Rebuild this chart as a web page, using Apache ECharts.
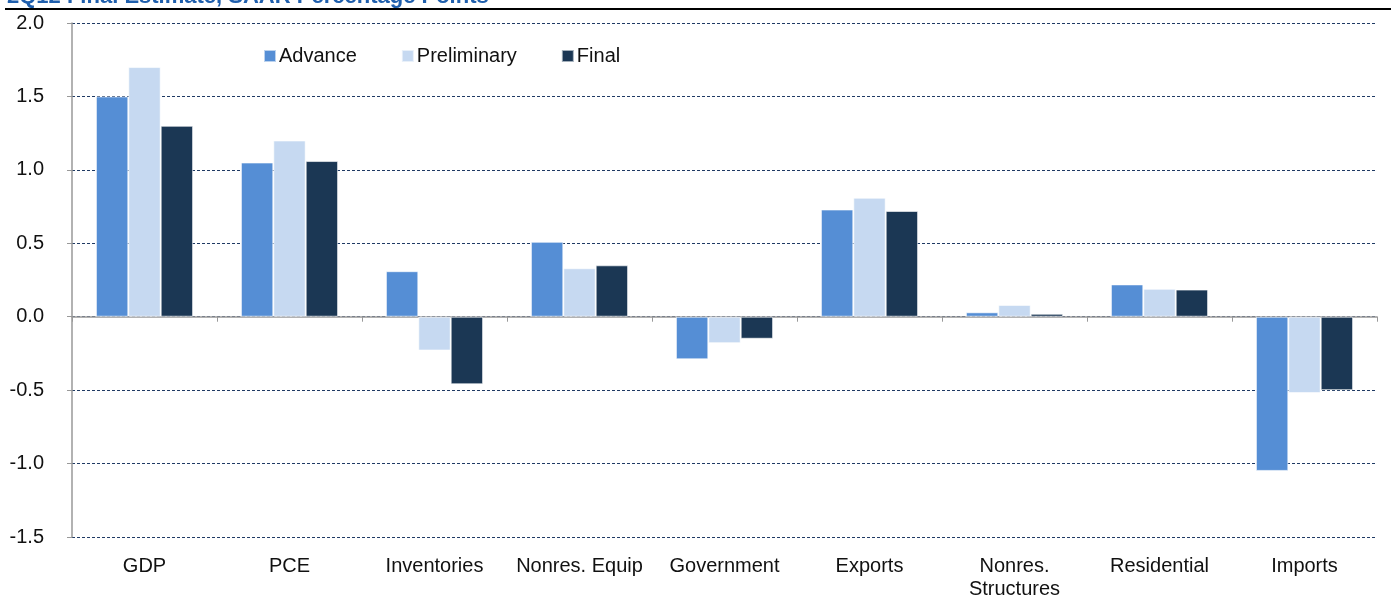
<!DOCTYPE html>
<html>
<head>
<meta charset="utf-8">
<script src="https://cdn.jsdelivr.net/npm/echarts@6/dist/echarts.min.js"></script>
<style>
  html, body { margin: 0; padding: 0; background: #fff; }
  #chart { width: 1391px; height: 596px; }
</style>
</head>
<body>
<div id="chart"></div>
<script>
// values, SAAR percentage points
const categories = ['GDP', 'PCE', 'Inventories', 'Nonres. Equip', 'Government', 'Exports', 'Nonres.\nStructures', 'Residential', 'Imports'];
const advance = [1.50, 1.05, 0.31, 0.51, -0.29, 0.73, 0.03, 0.22, -1.05];
const preliminary = [1.70, 1.20, -0.23, 0.33, -0.18, 0.81, 0.08, 0.19, -0.52];
const final = [1.30, 1.06, -0.46, 0.35, -0.15, 0.72, 0.02, 0.185, -0.50];
const yTicks = [-1.5, -1.0, -0.5, 0.0, 0.5, 1.0, 1.5, 2.0];

const chart = echarts.init(document.getElementById('chart'));

const font = 'Liberation Sans, Arial, sans-serif';

function barSeries(name, data, color) {
    return {
        name: name,
        type: 'bar',
        data: data,
        barGap: '0%',
        barCategoryGap: '33%',
        itemStyle: {
            color: color,
            borderColor: 'rgba(255,255,255,0.6)',
            borderWidth: 1
        }
    };
}

chart.setOption({
    animation: false,
    title: {
        text: '2Q12 Final Estimate, SAAR Percentage Points',
        left: 7,
        top: -14,
        padding: 0,
        textStyle: {
            color: '#1F5FAD',
            fontSize: 22,
            fontWeight: 'bold',
            fontFamily: font
        }
    },
    graphic: [{
        type: 'line',
        shape: { x1: 5, y1: 9, x2: 1391, y2: 9 },
        style: { stroke: '#000', lineWidth: 2 },
        z: 10
    }],
    legend: {
        left: 258,
        top: 41,
        itemWidth: 12,
        itemHeight: 12,
        itemGap: 44,
        icon: 'rect',
        textStyle: { fontSize: 20, color: '#111', fontFamily: font, padding: [0, 0, 0, -2] },
        data: ['Advance', 'Preliminary', 'Final']
    },
    grid: {
        left: 72,
        right: 14,
        top: 23,
        bottom: 59,
        outerBoundsMode: 'none'
    },
    xAxis: {
        type: 'category',
        data: categories,
        axisLine: { onZero: true, lineStyle: { color: '#999', width: 1.5 } },
        axisTick: { show: true, length: 5, lineStyle: { color: '#999' } },
        axisLabel: {
            interval: 0,
            color: '#111',
            fontSize: 20,
            fontFamily: font,
            lineHeight: 23,
            margin: 18
        },
        position: 'bottom'
    },
    yAxis: {
        type: 'value',
        min: yTicks[0],
        max: yTicks[yTicks.length - 1],
        interval: 0.5,
        axisLine: { show: true, lineStyle: { color: '#999', width: 1.5 } },
        axisTick: { show: true, length: 5, inside: false, lineStyle: { color: '#999' } },
        axisLabel: {
            color: '#111',
            fontSize: 20,
            fontFamily: font,
            margin: 28,
            formatter: v => v.toFixed(1)
        },
        splitLine: {
            show: true,
            lineStyle: { color: '#1F3A64', type: [3, 2], width: 1 }
        }
    },
    series: [
        barSeries('Advance', advance, '#558ED5'),
        barSeries('Preliminary', preliminary, '#C6D9F1'),
        barSeries('Final', final, '#1B3754')
    ]
});
</script>
</body>
</html>
